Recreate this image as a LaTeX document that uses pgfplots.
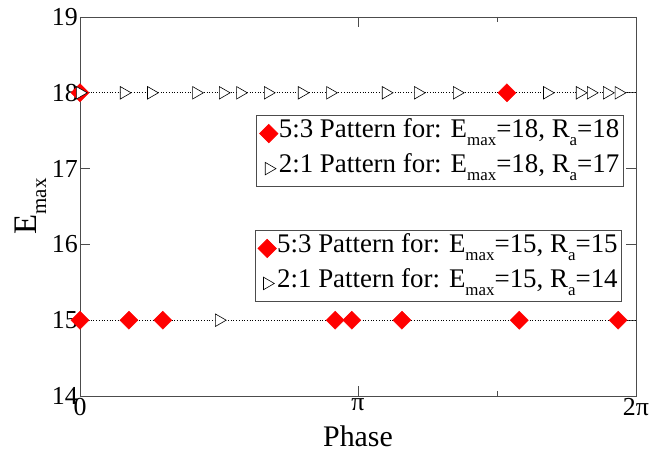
\documentclass[border=0pt]{standalone}
\usepackage{pgfplots}
\pgfplotsset{compat=1.18}
\usepackage{fontspec}
\setmainfont{Liberation Serif}
\newcommand\sub[1]{\raisebox{-0.3em}{\fontsize{17}{17}\selectfont #1}}
\newcommand\subL[1]{\raisebox{-0.3em}{\fontsize{21}{21}\selectfont #1}}
\definecolor{frame}{gray}{0.3}
\tikzset{
  dia/.style={only marks, mark=square*, mark size=6.4bp, mark options={rotate=45, draw=red, fill=red},
    legend image code/.code={\draw[mark=square*, mark size=4.6bp, mark options={rotate=45, draw=red, fill=red}] plot coordinates {(0bp,0bp)};}},
  tri/.style={only marks, mark=triangle*, mark size=7.2bp, mark options={rotate=-90, draw=black, fill=white, line width=0.6bp},
    legend image code/.code={\draw[mark=triangle*, mark size=5.2bp, mark options={rotate=-90, draw=black, fill=white, line width=0.6bp}] plot coordinates {(0bp,0bp)};}},
}
\pgfplotsset{
  common/.style={
    width=556bp, height=379bp, scale only axis,
    xmin=0, xmax=6.28319, ymin=14, ymax=19,
    legend style={draw=frame, line width=0.9bp, font=\fontsize{27}{30}\selectfont,
      cells={anchor=west}, nodes={inner sep=1bp, text height=19bp, text depth=11bp},
      inner xsep=3bp, inner ysep=2bp, row sep=3bp},
  }
}
\begin{document}
\begin{tikzpicture}
\begin{axis}[name=ax, common,
  xtick={0,3.14159,6.28319}, xticklabels={0,π,2π},
  extra x ticks={4.71239}, extra x tick labels={},
  extra x tick style={major tick length=5bp},
  ytick={14,15,16,17,18,19},
  tick align=inside, major tick length=10bp,
  axis line style={line width=0.9bp, color=frame},
  every tick/.style={line width=0.9bp, color=frame},
  /pgf/number format/assume math mode=true,
  ticklabel style={font=\fontsize{26}{30}\selectfont},
  yticklabel style={inner sep=2bp},
  xticklabel style={inner sep=2bp},
  label style={font=\fontsize{30}{36}\selectfont},
  xlabel={Phase}, ylabel={E\subL{max}},
  ylabel style={font=\fontsize{33}{38}\selectfont, xshift=0bp},
  xlabel style={yshift=-5bp},
  legend style={at={(0.978,0.741)}, anchor=north east},
]
\addplot[dotted, black, line width=0.7bp, forget plot] coordinates {(0,18) (6.28319,18)};
\addplot[dia] coordinates {(0,18) (4.825,18)};
\addlegendentry{5:3 Pattern for: E\sub{max}=18, R\sub{a}=18}
\addplot[tri] coordinates {(0,18) (0.496,18) (0.804,18) (1.313,18) (1.615,18) (1.810,18) (2.124,18) (2.507,18) (2.827,18) (3.456,18) (3.820,18) (4.260,18) (5.278,18) (5.649,18) (5.774,18) (5.956,18) (6.088,18)};
\addlegendentry{2:1 Pattern for: E\sub{max}=18, R\sub{a}=17}
\end{axis}
\begin{axis}[common, hide axis,
  legend style={at={(0.975,0.438)}, anchor=north east},
]
\addplot[dotted, black, line width=0.7bp, forget plot] coordinates {(0,15) (6.28319,15)};
\addplot[dia] coordinates {(0,15) (0.553,15) (0.936,15) (2.884,15) (3.072,15) (3.638,15) (4.964,15) (6.082,15)};
\addlegendentry{5:3 Pattern for: E\sub{max}=15, R\sub{a}=15}
\addplot[tri] coordinates {(1.571,15)};
\addlegendentry{2:1 Pattern for: E\sub{max}=15, R\sub{a}=14}
\end{axis}
\pgfresetboundingbox
\path[use as bounding box] ([shift={(-80bp,-56bp)}]ax.south west) rectangle ([shift={(16bp,17bp)}]ax.north east);
\end{tikzpicture}
\end{document}
